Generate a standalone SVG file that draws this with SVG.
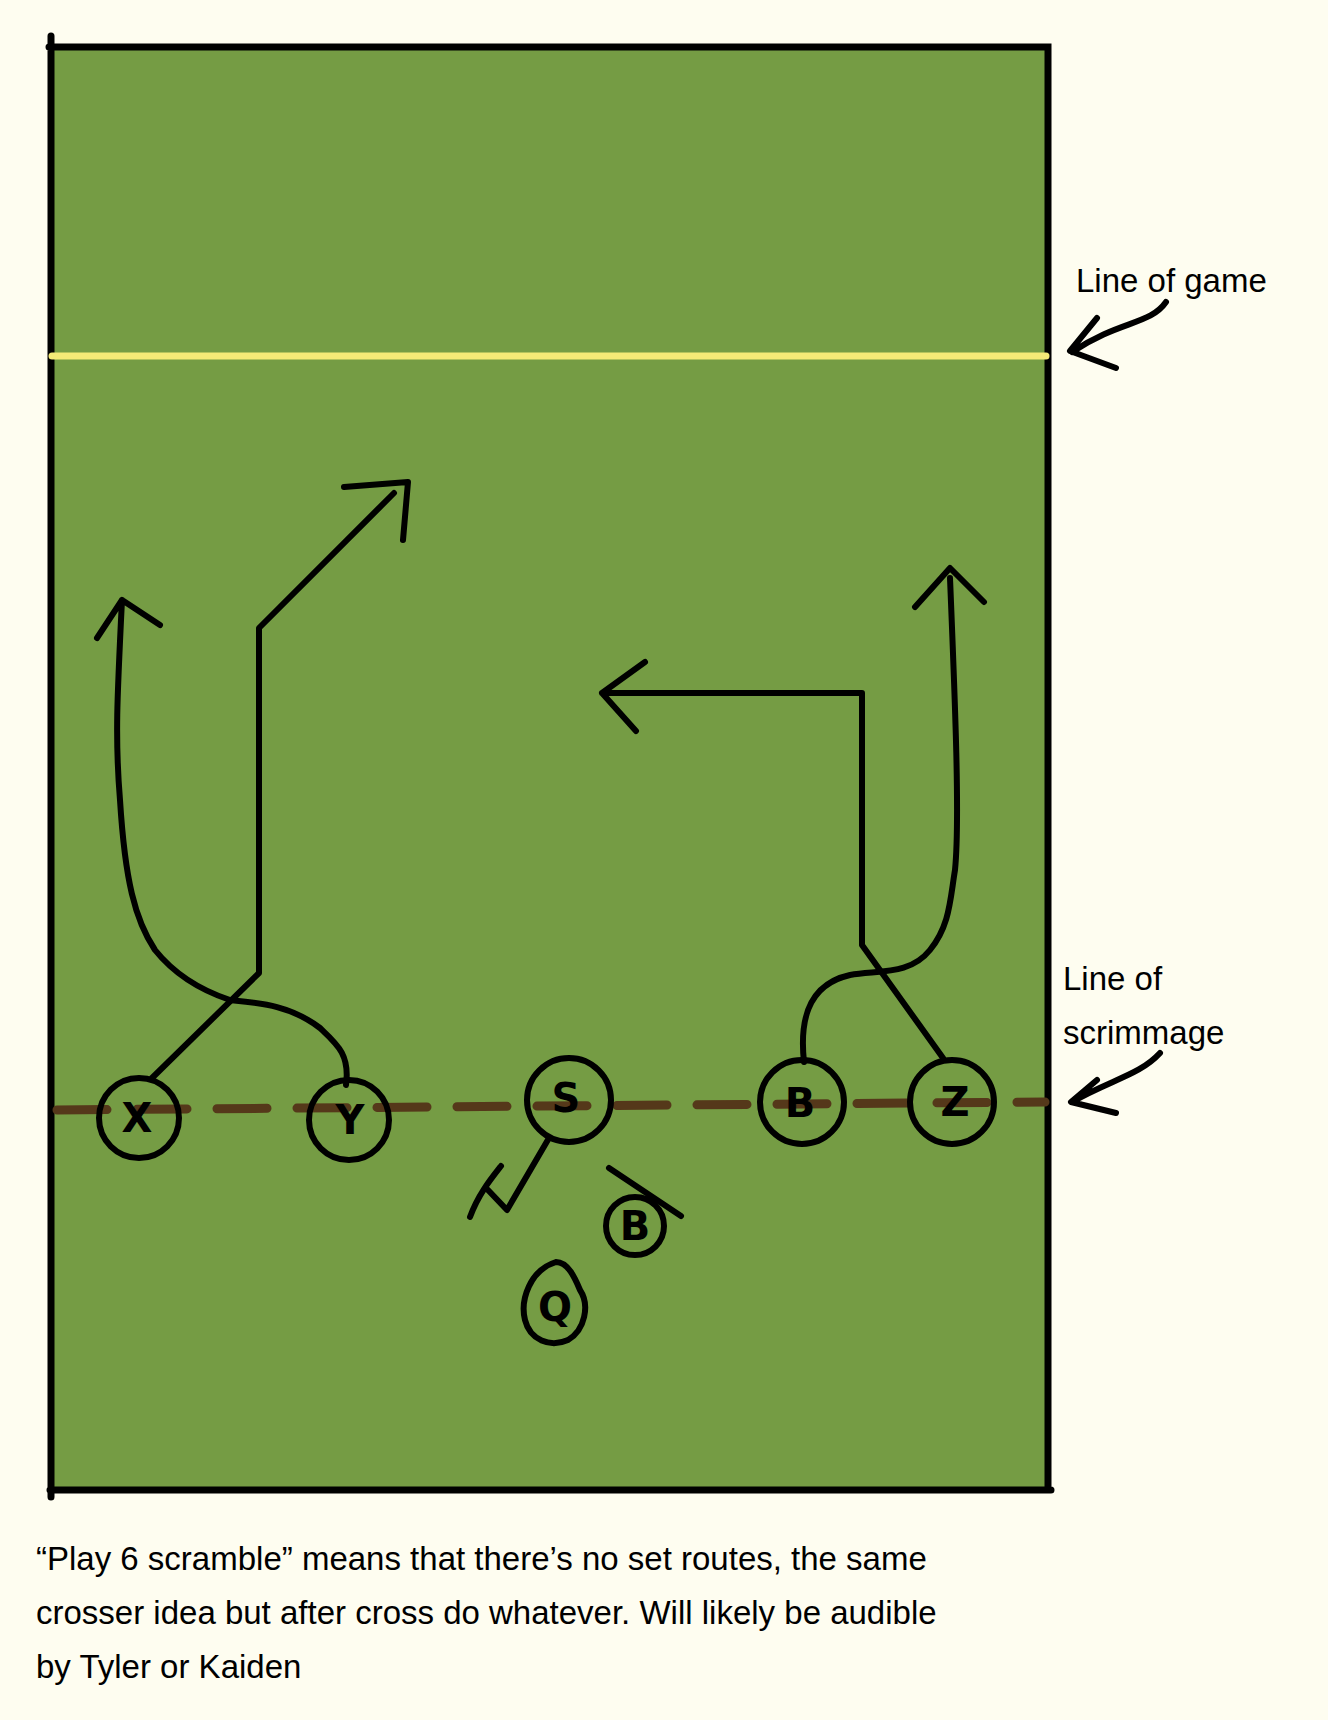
<svg xmlns="http://www.w3.org/2000/svg" width="1328" height="1720" viewBox="0 0 1328 1720">
<style>
.ink{fill:none;stroke:#000;stroke-width:6;stroke-linecap:round;stroke-linejoin:round}
.lbl{font-family:"Liberation Sans",Arial,sans-serif;font-size:33px;fill:#000}
.ltr{font-family:"DejaVu Sans",sans-serif;font-weight:bold;font-size:40px;fill:#000;text-anchor:middle}
.pc{fill:none;stroke:#000;stroke-width:6}
</style>
<rect width="1328" height="1720" fill="#fefdf0"/>
<g id="field">
<rect x="52" y="46" width="995" height="1442" fill="#759c44"/>
<path d="M51 36 V1497 M49 47 H1048 V1490 M50 1490 H1051" fill="none" stroke="#000" stroke-width="7" stroke-linecap="round"/>
<line x1="52" y1="356" x2="1046" y2="356" stroke="#f4ea77" stroke-width="7" stroke-linecap="round"/>
<line x1="57" y1="1110" x2="1045" y2="1102" stroke="#55381a" stroke-width="9" stroke-linecap="round" stroke-dasharray="50 30"/>
</g>
<g id="connectors">
<path class="ink" d="M152 1078 L259 973 V628 L394 493 M344 487 L408 482 L403 540"/>
<path class="ink" d="M346 1085 C350 1055 338 1045 320 1028 C290 1005 260 1003 230 1000 C200 990 175 975 155 950 C135 920 125 880 120 800 C115 740 117 700 122 600 M97 638 L122 600 L160 625"/>
<path class="ink" d="M943 1058 L862 945 V693 H602 M645 662 L602 693 L636 731"/>
<path class="ink" d="M804 1062 C800 1025 805 985 850 975 C880 970 910 975 930 950 C950 925 950 900 955 870 C960 820 955 700 950 578 M915 607 L950 568 L984 602"/>
<path class="ink" d="M549 1138 L507 1210 L488 1190 M501 1166 C490 1180 478 1195 470 1217"/>
<path class="ink" d="M609 1168 L681 1216"/>
<path class="ink" d="M1166 302 C1150 325 1120 320 1072 352 M1097 318 L1070 351 L1116 368"/>
<path class="ink" d="M1160 1053 C1140 1075 1110 1080 1072 1102 M1097 1080 L1071 1102 L1116 1113"/>
</g>
<g id="X"><circle class="pc" cx="139" cy="1118" r="40"/><text class="ltr" x="137" y="1132">X</text></g>
<g id="Y"><circle class="pc" cx="349" cy="1120" r="40"/><text class="ltr" x="350" y="1134">Y</text></g>
<g id="S"><circle class="pc" cx="569" cy="1100" r="42"/><text class="ltr" x="566" y="1112">S</text></g>
<g id="B1"><circle class="pc" cx="802" cy="1102" r="42"/><text class="ltr" x="800" y="1117">B</text></g>
<g id="Z"><circle class="pc" cx="952" cy="1102" r="42"/><text class="ltr" x="955" y="1116">Z</text></g>
<g id="B2"><circle class="pc" cx="635" cy="1226" r="29"/><text class="ltr" x="635" y="1240" font-size="32">B</text></g>
<g id="Q"><path class="pc" d="M556 1262 C530 1270 520 1300 525 1320 C530 1340 550 1348 568 1340 C585 1330 590 1305 580 1290 C575 1278 568 1262 556 1262 Z"/><text class="ltr" x="555" y="1321" font-size="30">Q</text></g>
<g id="labels">
<text class="lbl" x="1076" y="292">Line of game</text>
<text class="lbl" x="1063" y="990">Line of</text>
<text class="lbl" x="1063" y="1044">scrimmage</text>
<text class="lbl" x="36" y="1570">“Play 6 scramble” means that there’s no set routes, the same</text>
<text class="lbl" x="36" y="1624">crosser idea but after cross do whatever. Will likely be audible</text>
<text class="lbl" x="36" y="1678">by Tyler or Kaiden</text>
</g>
</svg>
